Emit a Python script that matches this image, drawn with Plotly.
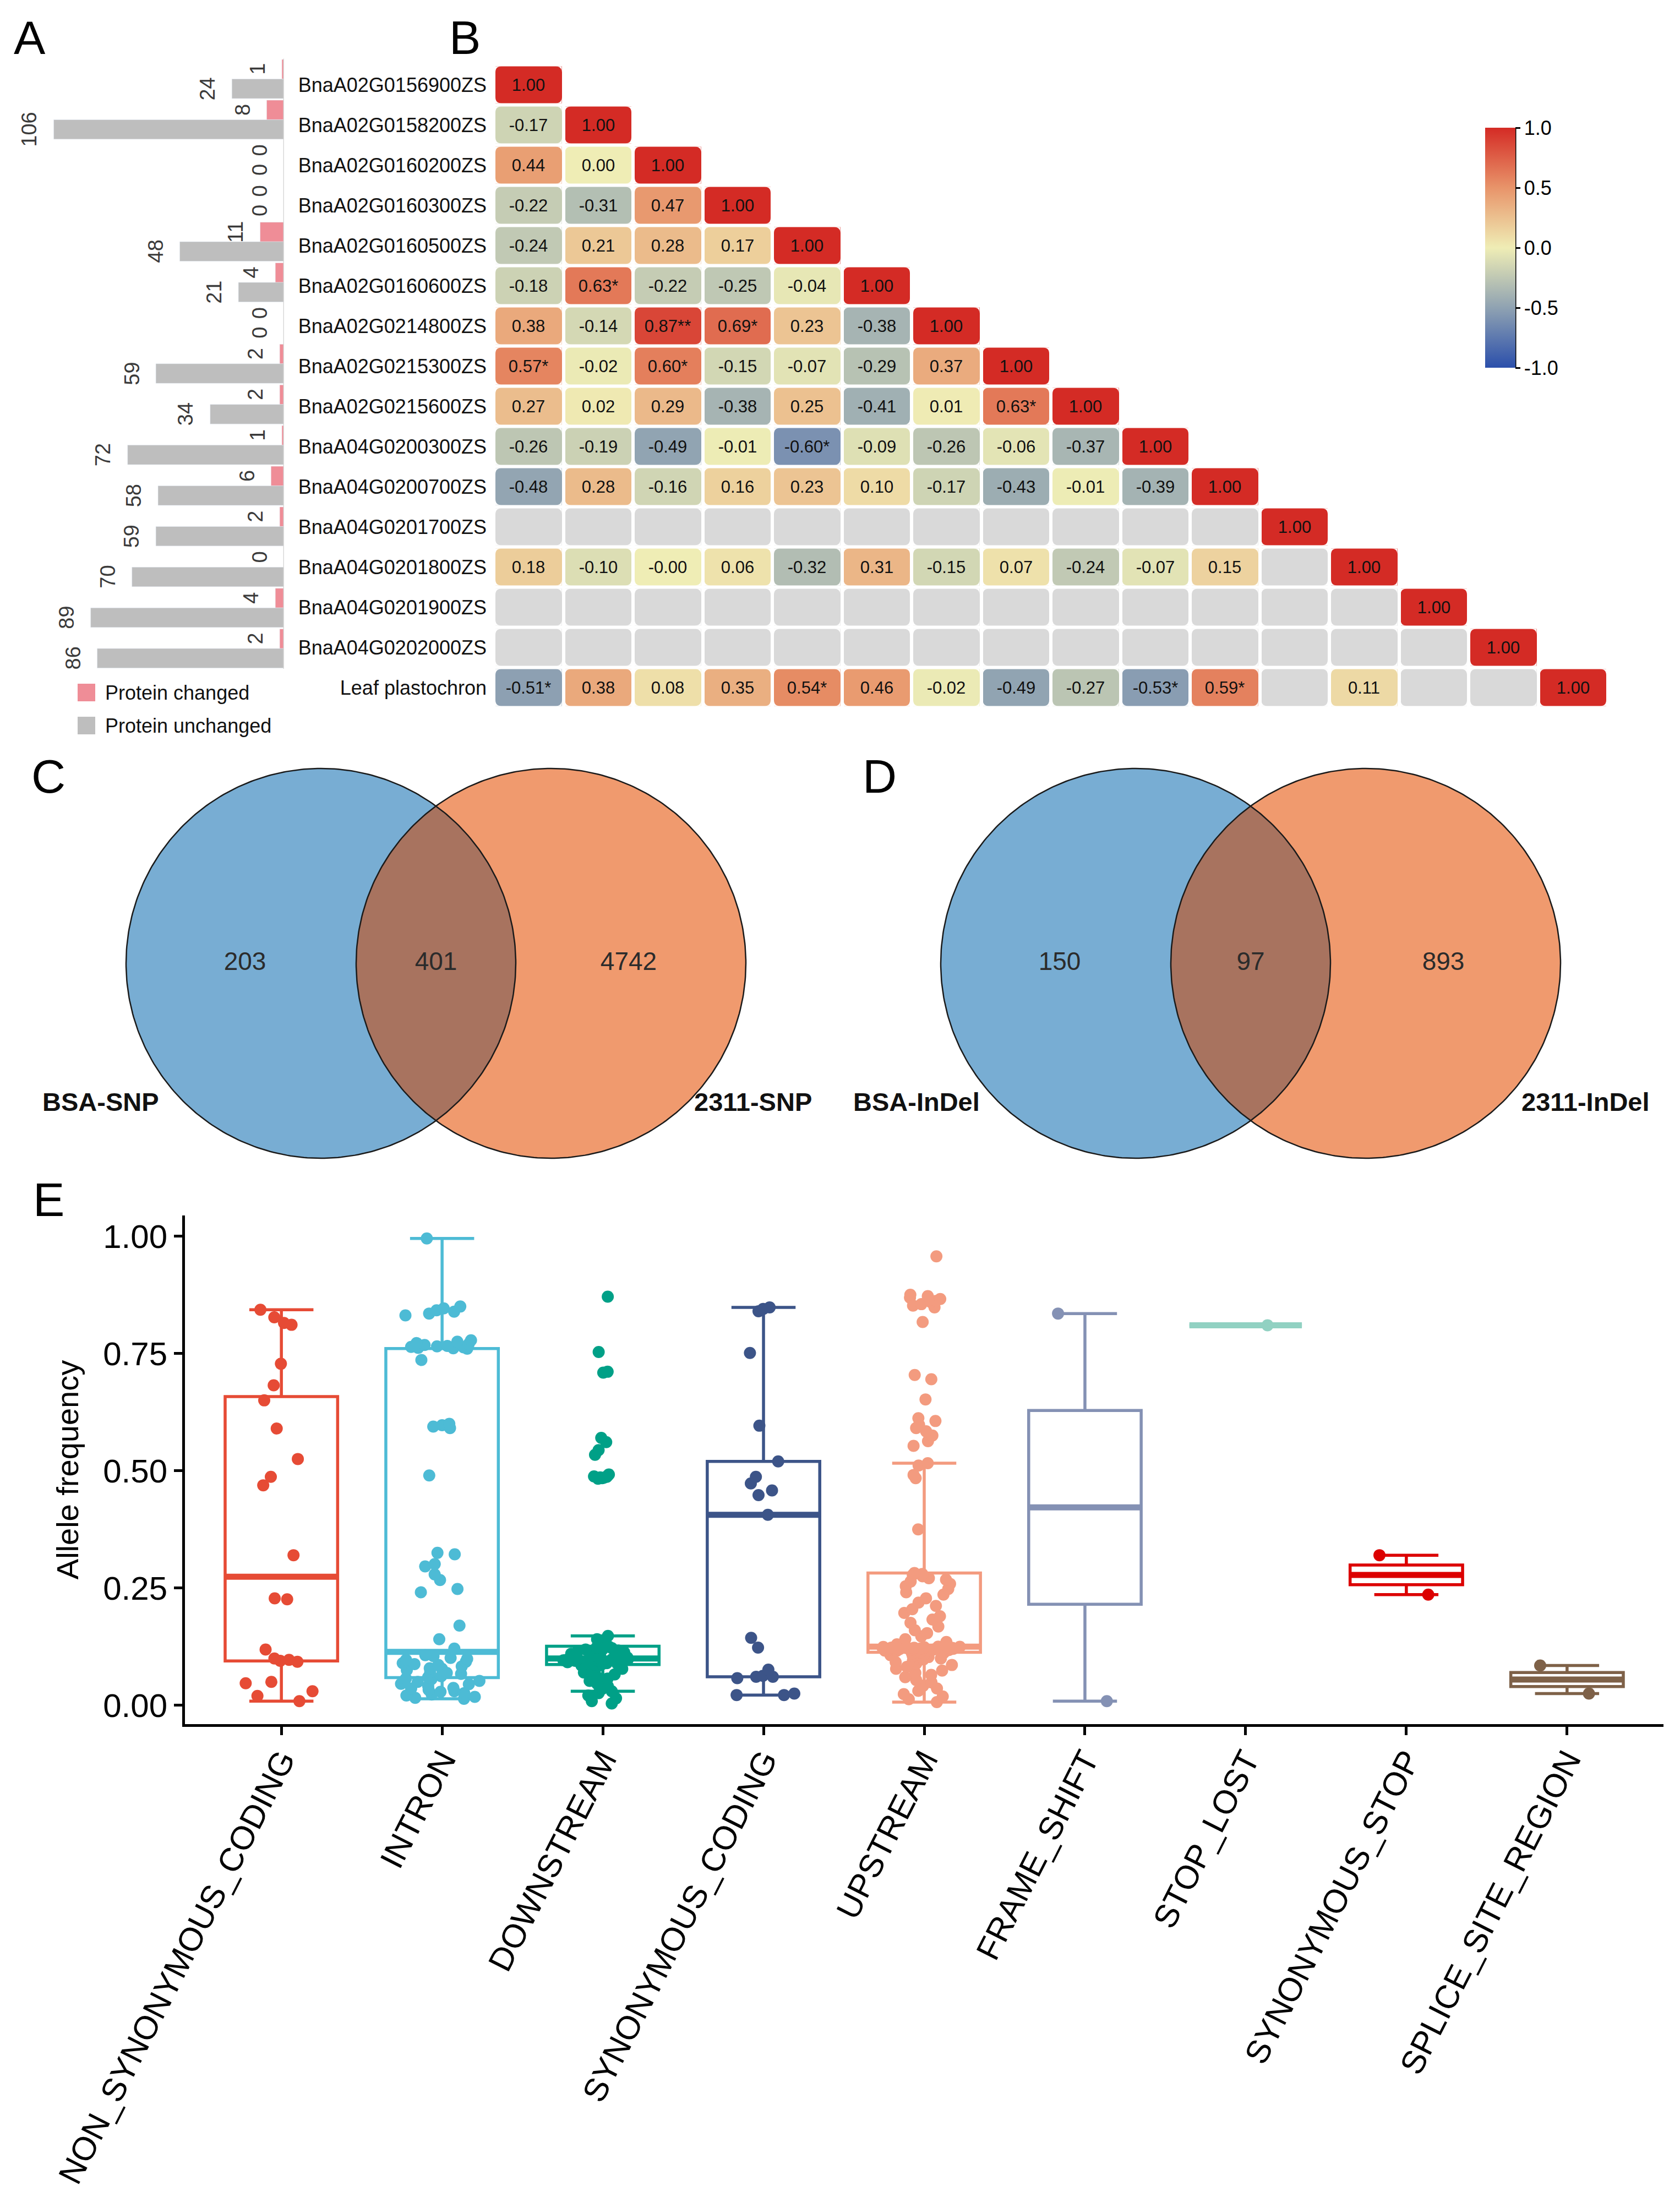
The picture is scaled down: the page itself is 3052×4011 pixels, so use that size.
import numpy as np
import plotly.graph_objects as go

W, H = 3052, 4011
FONT = "Liberation Sans, Arial, sans-serif"


def px(x):
    return x / W


def py(y):
    return 1 - y / H


# ---------------- Panel A / B data ----------------
genes = ["BnaA02G0156900ZS", "BnaA02G0158200ZS", "BnaA02G0160200ZS", "BnaA02G0160300ZS",
         "BnaA02G0160500ZS", "BnaA02G0160600ZS", "BnaA02G0214800ZS", "BnaA02G0215300ZS",
         "BnaA02G0215600ZS", "BnaA04G0200300ZS", "BnaA04G0200700ZS", "BnaA04G0201700ZS",
         "BnaA04G0201800ZS", "BnaA04G0201900ZS", "BnaA04G0202000ZS"]
traits = genes + ["Leaf plastochron"]

protein_changed = [1, 8, 0, 0, 11, 4, 0, 2, 2, 1, 6, 2, 0, 4, 2]
protein_unchanged = [24, 106, 0, 0, 48, 21, 0, 59, 34, 72, 58, 59, 70, 89, 86]

N = None
corr_rows = [
    [1.00],
    [-0.17, 1.00],
    [0.44, 0.00, 1.00],
    [-0.22, -0.31, 0.47, 1.00],
    [-0.24, 0.21, 0.28, 0.17, 1.00],
    [-0.18, 0.63, -0.22, -0.25, -0.04, 1.00],
    [0.38, -0.14, 0.87, 0.69, 0.23, -0.38, 1.00],
    [0.57, -0.02, 0.60, -0.15, -0.07, -0.29, 0.37, 1.00],
    [0.27, 0.02, 0.29, -0.38, 0.25, -0.41, 0.01, 0.63, 1.00],
    [-0.26, -0.19, -0.49, -0.01, -0.60, -0.09, -0.26, -0.06, -0.37, 1.00],
    [-0.48, 0.28, -0.16, 0.16, 0.23, 0.10, -0.17, -0.43, -0.01, -0.39, 1.00],
    [N, N, N, N, N, N, N, N, N, N, N, 1.00],
    [0.18, -0.10, -0.0, 0.06, -0.32, 0.31, -0.15, 0.07, -0.24, -0.07, 0.15, N, 1.00],
    [N, N, N, N, N, N, N, N, N, N, N, N, N, 1.00],
    [N, N, N, N, N, N, N, N, N, N, N, N, N, N, 1.00],
    [-0.51, 0.38, 0.08, 0.35, 0.54, 0.46, -0.02, -0.49, -0.27, -0.53, 0.59, N, 0.11, N, N, 1.00],
]
signif = {(5, 1): "*", (6, 2): "**", (6, 3): "*", (7, 0): "*", (7, 2): "*", (8, 7): "*",
          (9, 4): "*", (15, 0): "*", (15, 4): "*", (15, 9): "*", (15, 10): "*"}

colorbar_ticks = [-1.0, -0.5, 0.0, 0.5, 1.0]

# ---------------- Panel C / D data ----------------
snp_sets = ["BSA-SNP", "2311-SNP"]
snp_counts = [203, 401, 4742]
indel_sets = ["BSA-InDel", "2311-InDel"]
indel_counts = [150, 97, 893]

# ---------------- Panel E data ----------------
effects = ["NON_SYNONYMOUS_CODING", "INTRON", "DOWNSTREAM", "SYNONYMOUS_CODING", "UPSTREAM",
           "FRAME_SHIFT", "STOP_LOST", "SYNONYMOUS_STOP", "SPLICE_SITE_REGION"]

af_non_synonymous_coding = [0.843, 0.827, 0.815, 0.811, 0.728, 0.682, 0.650, 0.590, 0.525, 0.487,
                            0.469, 0.320, 0.228, 0.226, 0.119, 0.100, 0.097, 0.095, 0.093, 0.050,
                            0.047, 0.030, 0.020, 0.009]
af_intron = [0.995, 0.850, 0.846, 0.842, 0.839, 0.835, 0.831, 0.778, 0.775, 0.772, 0.770, 0.768,
             0.766, 0.765, 0.764, 0.763, 0.762, 0.761, 0.760, 0.736, 0.600, 0.597, 0.594, 0.591,
             0.490, 0.325, 0.322, 0.301, 0.296, 0.279, 0.267, 0.248, 0.241, 0.170, 0.141, 0.121,
             0.107, 0.105, 0.101, 0.099, 0.097, 0.093, 0.090, 0.088, 0.086, 0.083, 0.079, 0.078,
             0.075, 0.071, 0.069, 0.067, 0.062, 0.060, 0.057, 0.056, 0.052, 0.050, 0.046, 0.045,
             0.041, 0.037, 0.036, 0.033, 0.030, 0.029, 0.026, 0.023, 0.021, 0.018, 0.016, 0.014]
af_downstream = [0.871, 0.753, 0.711, 0.709, 0.570, 0.561, 0.544, 0.534, 0.492, 0.490, 0.488,
                 0.487, 0.486, 0.485, 0.484, 0.483, 0.148, 0.141,
                 0.004, 0.009, 0.015, 0.021, 0.026, 0.030, 0.035, 0.041, 0.046, 0.052, 0.057,
                 0.061, 0.066, 0.070, 0.074, 0.078, 0.082, 0.085, 0.087,
                 0.088, 0.089, 0.090, 0.091, 0.092, 0.092, 0.093, 0.094, 0.095, 0.095, 0.096,
                 0.097, 0.097, 0.098, 0.098, 0.099, 0.099, 0.100,
                 0.101, 0.102, 0.104, 0.105, 0.107, 0.108, 0.110, 0.111, 0.113, 0.114, 0.116,
                 0.117, 0.119, 0.120, 0.122, 0.123, 0.125, 0.126]
af_synonymous_coding = [0.848, 0.845, 0.840, 0.751, 0.596, 0.520, 0.487, 0.473, 0.458, 0.448,
                        0.406, 0.144, 0.123, 0.076, 0.063, 0.061, 0.061, 0.058, 0.025, 0.022,
                        0.022]
af_upstream = [0.957, 0.875, 0.872, 0.869, 0.866, 0.862, 0.859, 0.855, 0.852, 0.848, 0.817,
               0.704, 0.695, 0.652, 0.612, 0.606, 0.598, 0.591, 0.584, 0.575, 0.563, 0.553,
               0.516, 0.511, 0.491, 0.484, 0.375, 0.282,
               0.280, 0.278, 0.275, 0.271, 0.268, 0.264, 0.259, 0.254, 0.248, 0.241, 0.236,
               0.228, 0.219, 0.212, 0.205, 0.197, 0.190, 0.183, 0.176, 0.168, 0.160, 0.154,
               0.147, 0.141, 0.135, 0.130, 0.125,
               0.1248, 0.1245, 0.1241, 0.1240, 0.1236, 0.1233, 0.1231, 0.1227, 0.1225, 0.1221,
               0.1220, 0.1216, 0.1214, 0.1210, 0.1208, 0.1204, 0.1202, 0.1198, 0.1196, 0.1192,
               0.1189, 0.1185, 0.1180, 0.1174, 0.1167, 0.1160, 0.113,
               0.112, 0.111, 0.109, 0.107, 0.105, 0.103, 0.100, 0.098, 0.095, 0.092, 0.089,
               0.086, 0.082, 0.078, 0.074, 0.069, 0.065, 0.060, 0.054, 0.049, 0.042, 0.036,
               0.031, 0.024, 0.019, 0.013, 0.007]
af_frame_shift = [0.835, 0.009]
af_stop_lost = [0.810]
af_synonymous_stop = [0.320, 0.236]
af_splice_site_region = [0.085, 0.025]

effect_values = [af_non_synonymous_coding, af_intron, af_downstream, af_synonymous_coding,
                 af_upstream, af_frame_shift, af_stop_lost, af_synonymous_stop,
                 af_splice_site_region]
npg = ["#E64B35", "#4DBBD5", "#00A087", "#3C5488", "#F39B7F", "#8491B4", "#91D1C2",
       "#DC0000", "#7E6148"]

PINK = "#EF8D97"
GREY = "#BEBEBE"

fig = go.Figure()

# ---------------- Panel B heatmap ----------------
n = len(traits)
z = np.full((n, n), np.nan)
na = np.full((n, n), np.nan)
txt = [["" for _ in range(n)] for _ in range(n)]
for i, row in enumerate(corr_rows):
    for j, v in enumerate(row):
        if v is None:
            na[i, j] = 1
        else:
            z[i, j] = v
            txt[i][j] = f"{v:.2f}" + signif.get((i, j), "")

idx = list(range(n))
fig.add_trace(go.Heatmap(z=na, x=idx, y=idx, colorscale=[[0, "#D9D9D9"], [1, "#D9D9D9"]],
                         showscale=False, xgap=6, ygap=6, hoverinfo="skip",
                         xaxis="x", yaxis="y"))
cs = [[0.0, "#2B4FAB"], [0.25, "#8FA2B2"], [0.5, "#EFEDB5"], [0.75, "#E8946A"], [1.0, "#D42B25"]]
fig.add_trace(go.Heatmap(
    z=z, x=idx, y=idx, zmin=-1, zmax=1, colorscale=cs, text=txt, texttemplate="%{text}",
    textfont=dict(size=31, color="#111111", family=FONT), xgap=6, ygap=6,
    xaxis="x", yaxis="y", hoverinfo="skip",
    colorbar=dict(x=px(2690), xanchor="left", y=py(442), yanchor="middle",
                  len=436, lenmode="pixels", thickness=55, thicknessmode="pixels",
                  outlinewidth=0, xpad=0, ypad=0,
                  tickvals=colorbar_ticks, ticktext=[f"{t:.1f}" for t in colorbar_ticks],
                  ticks="outside", ticklen=9, tickwidth=3, tickcolor="black",
                  tickfont=dict(size=36, color="black", family=FONT))))

# rounded-corner masks for the heatmap cells (white corner slivers)
cell_w_px, cell_h_px = (2913 - 889) / n, (1277.5 - 109.5) / n
gx, gy = 3 / cell_w_px, 3 / cell_h_px
rx, ry = 11 / cell_w_px, 11 / cell_h_px
segs = []
for i, row in enumerate(corr_rows):
    for j in range(len(row)):
        xa, xb = j - 0.5 + gx, j + 0.5 - gx
        ya, yb = i - 0.5 + gy, i + 0.5 - gy
        for cx, cy, sx, sy in ((xa, ya, 1, 1), (xb, ya, -1, 1), (xa, yb, 1, -1), (xb, yb, -1, -1)):
            segs.append(f"M{cx:.4f},{cy:.4f} L{cx + sx * rx:.4f},{cy:.4f} "
                        f"Q{cx:.4f},{cy:.4f} {cx:.4f},{cy + sy * ry:.4f} Z")
fig.add_shape(type="path", xref="x", yref="y", path=" ".join(segs),
              fillcolor="white", line=dict(width=0), layer="above")

# ---------------- Panel A bars ----------------
grow = list(range(len(genes)))
fig.add_trace(go.Bar(y=grow, x=protein_changed, orientation="h", marker_color=PINK,
                     offset=-0.48, width=0.48, xaxis="x2", yaxis="y2", hoverinfo="skip",
                     name="Protein changed"))
fig.add_trace(go.Bar(y=grow, x=protein_unchanged, orientation="h", marker_color=GREY,
                     offset=0.0, width=0.48, xaxis="x2", yaxis="y2", hoverinfo="skip",
                     name="Protein unchanged"))

annotations = []
for r in grow:
    for val, dy in ((protein_changed[r], -0.24), (protein_unchanged[r], 0.24)):
        annotations.append(dict(x=val, y=r + dy, xref="x2", yref="y2", text=str(val),
                                textangle=-90, showarrow=False, xanchor="center",
                                yanchor="middle", xshift=-44,
                                font=dict(size=38, color="#3A3A3A", family=FONT)))

# legend A (manual)
for k, (lab, col) in enumerate((("Protein changed", PINK), ("Protein unchanged", GREY))):
    yc = 1250 + 60 * k
    fig.add_shape(type="rect", xref="paper", yref="paper", x0=px(133), x1=px(165),
                  y0=py(yc + 16), y1=py(yc - 16), fillcolor=col, line=dict(width=0))
    annotations.append(dict(x=px(181), y=py(yc), xref="paper", yref="paper", text=lab,
                            showarrow=False, xanchor="left", yanchor="middle",
                            font=dict(size=36, color="#111111", family=FONT)))

fig.add_shape(type="line", xref="x2", yref="y2 domain", x0=0, x1=0, y0=0, y1=1,
              line=dict(color="#D9D9D9", width=3))
# colorbar axis line
fig.add_shape(type="line", xref="paper", yref="paper", x0=px(2745), x1=px(2745),
              y0=py(224), y1=py(660), line=dict(color="black", width=3))

# ---------------- Panels C / D Venn ----------------
theta = np.linspace(0, 2 * np.pi, 361)
R = 354
CY = 1742
venns = [((575, 993), snp_counts, snp_sets, ((175, 1993), (1360, 1993))),
         ((2055, 2473), indel_counts, indel_sets, ((1657, 1993), (2872, 1993)))]
for (c1, c2), counts, sets, labpos in venns:
    for cx, col in ((c1, "#78ADD3"), (c2, "#F09A6E")):
        fig.add_trace(go.Scatter(x=cx + R * np.cos(theta), y=CY + R * np.sin(theta),
                                 fill="toself", fillcolor=col, mode="lines",
                                 line=dict(width=0), xaxis="x3", yaxis="y3",
                                 hoverinfo="skip"))
    a = np.arccos((c2 - c1) / 2 / R)
    t1 = np.linspace(-a, a, 120)
    t2 = np.linspace(np.pi - a, np.pi + a, 120)
    lx = np.concatenate([c1 + R * np.cos(t1), c2 + R * np.cos(t2)])
    ly = np.concatenate([CY + R * np.sin(t1), CY + R * np.sin(t2)])
    fig.add_trace(go.Scatter(x=lx, y=ly, fill="toself", fillcolor="#A8735F", mode="lines",
                             line=dict(width=0), xaxis="x3", yaxis="y3", hoverinfo="skip"))
    for cx in (c1, c2):
        fig.add_trace(go.Scatter(x=cx + R * np.cos(theta), y=CY + R * np.sin(theta),
                                 mode="lines", line=dict(color="#1A1A1A", width=2.5),
                                 xaxis="x3", yaxis="y3", hoverinfo="skip"))
    fig.add_trace(go.Scatter(x=[c1 - 138, (c1 + c2) / 2, c2 + 141], y=[CY, CY, CY],
                             mode="text", text=[str(c) for c in counts],
                             textfont=dict(size=46, color="#2B2B2B", family=FONT),
                             xaxis="x3", yaxis="y3", hoverinfo="skip"))
    for (lx0, ly0), s in zip(labpos, sets):
        annotations.append(dict(x=lx0, y=ly0, xref="x3", yref="y3", text=f"<b>{s}</b>",
                                showarrow=False, xanchor="center", yanchor="middle",
                                font=dict(size=47, color="#111111", family=FONT)))

# ---------------- Panel E boxplots ----------------
positions = list(range(1, len(effects) + 1))


def box_stats(v):
    arr = np.sort(np.asarray(v, dtype=float))
    q1, med, q3 = np.percentile(arr, [25, 50, 75])
    iqr = q3 - q1
    lf = arr[arr >= q1 - 1.5 * iqr].min()
    uf = arr[arr <= q3 + 1.5 * iqr].max()
    return q1, med, q3, lf, uf


for pos, vals, col in zip(positions, effect_values, npg):
    q1, med, q3, lf, uf = box_stats(vals)
    fig.add_trace(go.Box(x=[pos], q1=[q1], median=[med], q3=[q3], lowerfence=[lf],
                         upperfence=[uf], width=0.7, whiskerwidth=0.57,
                         line=dict(color=col, width=5.5), fillcolor="rgba(255,255,255,0)",
                         xaxis="x4", yaxis="y4", hoverinfo="skip"))
    fig.add_trace(go.Scatter(x=[pos - 0.35, pos + 0.35], y=[med, med], mode="lines",
                             line=dict(color=col, width=11), xaxis="x4", yaxis="y4",
                             hoverinfo="skip"))
    fig.add_trace(go.Box(y=vals, x0=pos, boxpoints="all", jitter=0.75, pointpos=0, width=0.7,
                         whiskerwidth=0, line=dict(width=0, color="rgba(0,0,0,0)"),
                         fillcolor="rgba(0,0,0,0)",
                         marker=dict(size=22, color=col, line=dict(width=0)),
                         xaxis="x4", yaxis="y4", hoverinfo="skip"))

# panel letters
for letter, (lx0, ly0) in zip("ABCDE", [(46, 60), (836, 60), (80, 1402), (1590, 1402),
                                         (80, 2171)]):
    annotations.append(dict(x=px(lx0), y=py(ly0), xref="paper", yref="paper", text=letter,
                            showarrow=False, xanchor="center", yanchor="middle",
                            font=dict(size=86, color="black", family=FONT)))

yticks_e = [0.0, 0.25, 0.5, 0.75, 1.0]
hidden = dict(visible=False, showgrid=False, zeroline=False, automargin=False)

fig.update_layout(
    width=W, height=H, margin=dict(l=0, r=0, t=0, b=0),
    paper_bgcolor="white", plot_bgcolor="white", showlegend=False,
    barmode="overlay", boxmode="overlay",
    font=dict(family=FONT, color="black"),
    xaxis=dict(domain=[px(889), px(2913)], range=[-0.5, 15.5], anchor="y", **hidden),
    yaxis=dict(domain=[py(1277.5), py(109.5)], range=[15.5, -0.5], anchor="x",
               tickvals=idx, ticktext=traits, ticks="", showgrid=False, zeroline=False,
               showline=False, automargin=False, ticklabelstandoff=12,
               tickfont=dict(size=36, color="#111111", family=FONT)),
    xaxis2=dict(domain=[0, px(508)], range=[128.7, 0], anchor="y2", **hidden),
    yaxis2=dict(domain=[py(1207.05), py(98.55)], range=[14.5, -0.5], anchor="x2", **hidden),
    xaxis3=dict(domain=[0, 1], range=[0, W], anchor="y3", **hidden),
    yaxis3=dict(domain=[py(2110), py(1370)], range=[2110, 1370], anchor="x3", **hidden),
    xaxis4=dict(domain=[px(328), px(3014)], range=[0.4, 9.6], anchor="y4",
                tickvals=positions, ticktext=effects, tickangle=-63,
                tickfont=dict(size=60, color="black", family=FONT),
                ticks="outside", ticklen=15, tickwidth=5, tickcolor="black",
                showline=True, linewidth=5, linecolor="black", showgrid=False,
                zeroline=False, automargin=False, ticklabelstandoff=-14),
    yaxis4=dict(domain=[py(3124), py(2200)], range=[-0.04, 1.044], anchor="x4",
                tickvals=yticks_e, ticktext=[f"{t:.2f}" for t in yticks_e],
                tickfont=dict(size=60, color="black", family=FONT),
                ticks="outside", ticklen=15, tickwidth=5, tickcolor="black",
                showline=True, linewidth=5, linecolor="black", showgrid=False,
                zeroline=False, automargin=False,
                title=dict(text="Allele frequency", standoff=28,
                           font=dict(size=56, color="black", family=FONT))),
    annotations=annotations,
)

fig.write_html("out.html")
